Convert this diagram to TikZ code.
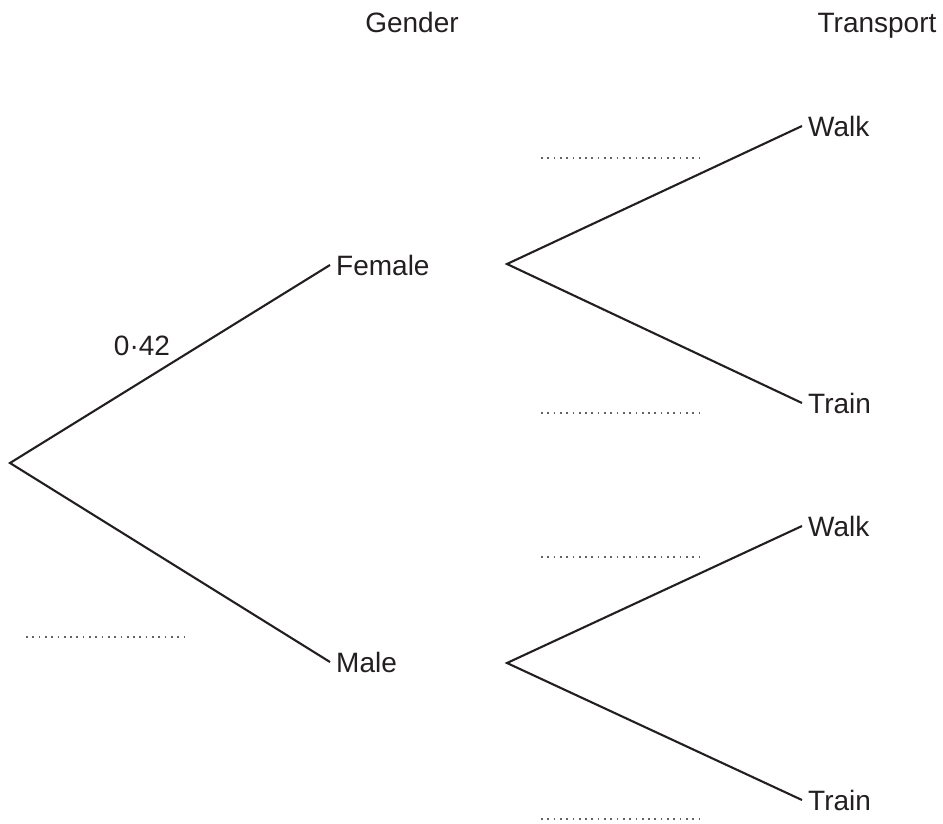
\documentclass[tikz,border=0pt]{standalone}
\usepackage{fontspec}
\setmainfont{Liberation Sans}
\definecolor{ink}{HTML}{231F20}
\begin{document}
\begin{tikzpicture}[x=1pt,y=-1pt,
  lbl/.style={font=\fontsize{28}{33}\selectfont, text=ink, inner sep=0pt},
  leaf/.style={lbl, anchor=west, inner xsep=6pt, inner ysep=0pt},
  branch/.style={draw=ink, line width=2.1pt, line join=miter},
  blank/.style={draw=ink!70, line width=1.6pt, dash pattern=on 1.7pt off 4.6pt}]
\useasboundingbox (0,0) rectangle (943,823);
% headings
\node[lbl, anchor=base] (gender) at (412,32) {Gender};
\node[lbl, anchor=base] (transport) at (877,32) {Transport};
% root and first branches
\coordinate (root) at (10,463);
\node[leaf] (female) at (330,265) {Female};
\node[leaf] (male) at (330,662) {Male};
\draw[branch] (female.west) -- (root) -- (male.west);
\node[lbl, anchor=base] (p) at (142,355) {0·42};
% second-level branches
\coordinate (fb) at (507,264);
\coordinate (mb) at (507,663);
\node[leaf] (fwalk) at (802,126) {Walk};
\node[leaf] (ftrain) at (802,403) {Train};
\node[leaf] (mwalk) at (802,526) {Walk};
\node[leaf] (mtrain) at (802,800) {Train};
\draw[branch] (fwalk.west) -- (fb) -- (ftrain.west);
\draw[branch] (mwalk.west) -- (mb) -- (mtrain.west);
% answer blanks
\coordinate (b0a) at (26,637); \coordinate (b0b) at (189,637);
\coordinate (b1a) at (541,158); \coordinate (b1b) at (704,158);
\coordinate (b2a) at (541,413); \coordinate (b2b) at (704,413);
\coordinate (b3a) at (541,557); \coordinate (b3b) at (704,557);
\coordinate (b4a) at (541,819); \coordinate (b4b) at (704,819);
\draw[blank] (b0a) -- (b0b);
\draw[blank] (b1a) -- (b1b);
\draw[blank] (b2a) -- (b2b);
\draw[blank] (b3a) -- (b3b);
\draw[blank] (b4a) -- (b4b);
\end{tikzpicture}
\end{document}
